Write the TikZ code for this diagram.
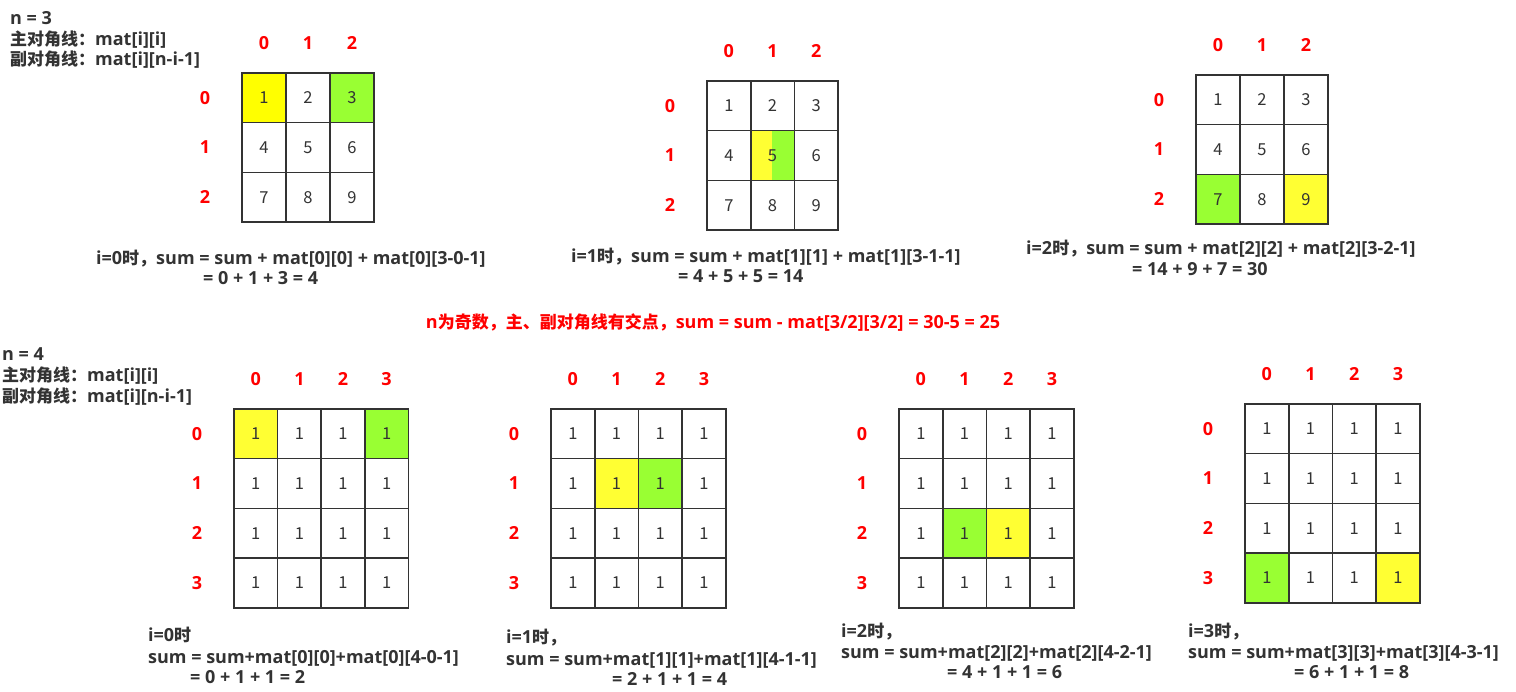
\documentclass[tikz,border=0pt]{standalone}
\usepackage{fontspec}
\setmainfont{Open Sans}
\newfontfamily\cjk{Noto Sans CJK SC}
\newcommand\zh[1]{{\cjk\fontsize{17}{20}\selectfont #1}}
\definecolor{txtc}{HTML}{333333}
\definecolor{gridc}{HTML}{333333}
\definecolor{yelA}{HTML}{FFFF00}
\definecolor{yel}{HTML}{FFFF33}
\definecolor{grn}{HTML}{99FF33}
\definecolor{idxred}{HTML}{FF0000}
\tikzset{
  cell/.style={draw=gridc, line width=1.6pt, minimum width=#1, minimum height=49.7pt,
    inner sep=0pt, text=txtc, font=\cjk\fontsize{16.5}{16}\selectfont},
  idx/.style={inner sep=0pt, text=idxred, font=\bfseries\fontsize{18}{18}\selectfont},
  note/.style={anchor=base west, inner sep=0pt, text=txtc, font=\bfseries\fontsize{18}{20}\selectfont},
}
\begin{document}
\begin{tikzpicture}[x=1pt,y=-1pt]
\useasboundingbox[fill=white] (0,0) rectangle (1516,692);

% cases colorees (diagonales)
\foreach \gx/\gy/\w/\r/\c/\col in {242/73/44/0/0/yelA, 242/73/44/0/2/grn,
  1196/75/44/2/0/grn, 1196/75/44/2/2/yel,
  234/409/43.6/0/0/yel, 234/409/43.6/0/3/grn,
  551/409/43.7/1/1/yel, 551/409/43.7/1/2/grn,
  899/409/43.7/2/1/grn, 899/409/43.7/2/2/yel,
  1245/404/43.7/3/0/grn, 1245/404/43.7/3/3/yel}
{
	\fill[\col] (\gx+\c*\w,\gy+\r*49.7) rectangle ++(\w,49.7);
}
\fill[yel] (750.7,130.7) rectangle (772,180.4); % case du milieu : les deux diagonales
\fill[grn] (772,130.7) rectangle (794.4,180.4);

% grilles avec indices
\foreach \g/\gx/\gy/\w/\n in {A/242/73/44/3, B/707/81/43.7/3, C/1196/75/44/3,
  D/234/409/43.6/4, E/551/409/43.7/4, F/899/409/43.7/4, G/1245/404/43.7/4}
{
	\pgfmathtruncatemacro\last{\n-1}
	\foreach \r in {0,...,\last}
	{
		\node[idx] (\g-r\r) at (\gx-37,\gy+\r*49.7+24.85) {\r};
		\node[idx] (\g-c\r) at (\gx+\r*\w+\w/2,\gy-30) {\r};
		\foreach \c in {0,...,\last}
		{
			\pgfmathtruncatemacro\v{\n==3 ? 3*\r+\c+1 : 1}
			\node[cell=\w] (\g-\r-\c) at (\gx+\c*\w+\w/2,\gy+\r*49.7+24.85) {\v};
		}
	}
}

% textes n = 3
\node[note] (hd3a) at (10,25) {n = 3};
\node[note] (hd3b) at (10,45.5) {\zh{主对角线：}mat[i][i]};
\node[note] (hd3c) at (10,66) {\zh{副对角线：}mat[i][n-i-1]};
\node[note] (s3a) at (96,265) {i=0\zh{时，}sum = sum + mat[0][0] + mat[0][3-0-1]};
\node[note] (s3b) at (203,285) {= 0 + 1 + 3 = 4};
\node[note] (s3c) at (571,263) {i=1\zh{时，}sum = sum + mat[1][1] + mat[1][3-1-1]};
\node[note] (s3d) at (678,283) {= 4 + 5 + 5 = 14};
\node[note] (s3e) at (1026,255) {i=2\zh{时，}sum = sum + mat[2][2] + mat[2][3-2-1]};
\node[note] (s3f) at (1132,276) {= 14 + 9 + 7 = 30};
\node[note, anchor=base, text=idxred] (odd) at (713,329) {n\zh{为奇数，主、副对角线有交点，}sum = sum - mat[3/2][3/2] = 30-5 = 25};

% textes n = 4
\node[note] (hd4a) at (2,361) {n = 4};
\node[note] (hd4b) at (2,382) {\zh{主对角线：}mat[i][i]};
\node[note] (hd4c) at (2,403) {\zh{副对角线：}mat[i][n-i-1]};
\node[note] (s4a) at (148,641) {i=0\zh{时}};
\node[note] (s4b) at (148,663) {sum = sum+mat[0][0]+mat[0][4-0-1]};
\node[note] (s4c) at (190,683) {= 0 + 1 + 1 = 2};
\node[note] (s4d) at (506,643) {i=1\zh{时，}};
\node[note] (s4e) at (506,665) {sum = sum+mat[1][1]+mat[1][4-1-1]};
\node[note] (s4f) at (612,685) {= 2 + 1 + 1 = 4};
\node[note] (s4g) at (841,637) {i=2\zh{时，}};
\node[note] (s4h) at (841,658) {sum = sum+mat[2][2]+mat[2][4-2-1]};
\node[note] (s4i) at (947,678) {= 4 + 1 + 1 = 6};
\node[note] (s4j) at (1188,637) {i=3\zh{时，}};
\node[note] (s4k) at (1188,658) {sum = sum+mat[3][3]+mat[3][4-3-1]};
\node[note] (s4l) at (1294,678) {= 6 + 1 + 1 = 8};

\end{tikzpicture}
\end{document}
